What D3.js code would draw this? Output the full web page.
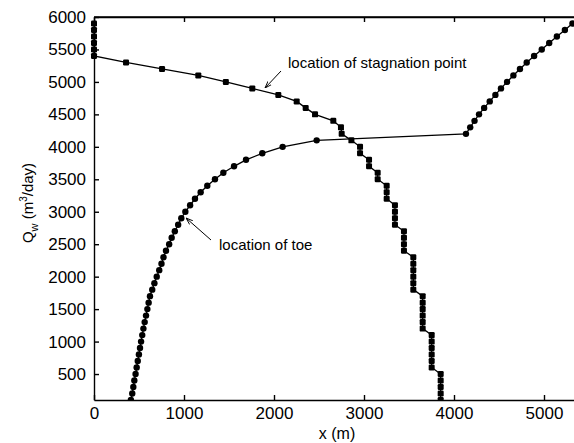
<!DOCTYPE html>
<html>
<head>
<meta charset="utf-8">
<title>Qw vs x</title>
<style>
    body { margin: 0; background: #fff; font-family: "Liberation Sans", Arial, sans-serif; }
    .axis path, .axis line { stroke: #000; stroke-width: 1.4; }
    .axis text { font-size: 17px; fill: #000; font-family: "Liberation Sans", Arial, sans-serif; }
</style>
</head>
<body>
<script src="https://cdn.jsdelivr.net/npm/d3@7"></script>
<script>
// location of toe: pumping rate Q (m3/day) and x (m)
var toeQ = [100, 200, 300, 400, 500, 600, 700, 800, 900, 1000, 1100, 1200, 1300, 1400, 1500, 1600, 1700,
    1800, 1900, 2000, 2100, 2200, 2300, 2400, 2500, 2600, 2700, 2800, 2900, 3000, 3100, 3200,
    3300, 3400, 3500, 3600, 3700, 3800, 3900, 4000, 4100,
    4200, 4300, 4400, 4500, 4600, 4700, 4800, 4900, 5000, 5100, 5200, 5300, 5400, 5500, 5600, 5700, 5800, 5900];
var toeX = [410, 425, 437, 448, 462, 474, 486, 499, 511, 523, 536, 549, 563, 578, 593, 607, 622,
    647, 671, 697, 725, 750, 772, 800, 835, 863, 898, 935, 970, 1015, 1068, 1122,
    1185, 1259, 1344, 1437, 1556, 1689, 1870, 2096, 2474,
    4133, 4180, 4228, 4278, 4335, 4397, 4460, 4522, 4590, 4660, 4733, 4808, 4890, 4975, 5058, 5143, 5232, 5316];

// location of stagnation point
var stagQ = [5900, 5800, 5700, 5600, 5500, 5400, 5300, 5200, 5100, 5000, 4900, 4800, 4700, 4600, 4500,
    4400, 4300, 4200, 4100, 4000, 3900, 3800, 3700, 3600, 3500, 3400, 3300, 3200, 3100, 3000,
    2900, 2800, 2700, 2600, 2500, 2400, 2300, 2200, 2100, 2000, 1900, 1800, 1700, 1600, 1500,
    1400, 1300, 1200, 1100, 1000, 900, 800, 700, 600, 500, 400, 300, 200, 100];
var stagX = [0, 0, 0, 0, 0, 0, 356, 756, 1159, 1465, 1759, 2048, 2252, 2352, 2456,
    2659, 2744, 2752, 2860, 2956, 2956, 3056, 3056, 3152, 3152, 3252, 3252, 3252, 3344, 3344,
    3344, 3344, 3444, 3444, 3444, 3444, 3548, 3548, 3548, 3548, 3548, 3548, 3652, 3652, 3652,
    3652, 3652, 3652, 3752, 3752, 3752, 3752, 3752, 3752, 3852, 3852, 3852, 3852, 3852];

var xTicks = [0, 1000, 2000, 3000, 4000, 5000];
var yTicks = [500, 1000, 1500, 2000, 2500, 3000, 3500, 4000, 4500, 5000, 5500, 6000];

var width = 574, height = 443;
var mLeft = 94, mTop = 17, mRight = 574.6, mBottom = 400;

var svg = d3.select("body").append("svg")
    .attr("width", width)
    .attr("height", height);

var x = d3.scaleLinear().domain([0, 5340]).range([mLeft, mRight]);
var y = d3.scaleLinear().domain([100, 6000]).range([mBottom, mTop]);

svg.append("defs").append("clipPath").attr("id", "clip")
    .append("rect").attr("x", mLeft - 5).attr("y", mTop - 5)
    .attr("width", mRight - mLeft + 10).attr("height", mBottom - mTop + 5);

// frame top line
svg.append("line").attr("x1", mLeft).attr("x2", mRight + 2).attr("y1", mTop).attr("y2", mTop)
    .attr("stroke", "#000").attr("stroke-width", 1.4);

var fmt = d3.format("d");

svg.append("g").attr("class", "axis")
    .attr("transform", "translate(0," + mBottom + ")")
    .call(d3.axisBottom(x).tickValues(xTicks).tickFormat(fmt)
        .tickSizeInner(-5).tickSizeOuter(0).tickPadding(7));
svg.append("g").attr("class", "axis")
    .attr("transform", "translate(0," + mTop + ")")
    .call(d3.axisTop(x).tickValues(xTicks).tickFormat("")
        .tickSizeInner(-5).tickSizeOuter(0));
svg.append("g").attr("class", "axis")
    .attr("transform", "translate(" + mLeft + ",0)")
    .call(d3.axisLeft(y).tickValues(yTicks).tickFormat(fmt)
        .tickSizeInner(-5).tickSizeOuter(0).tickPadding(8));

var plot = svg.append("g").attr("clip-path", "url(#clip)");

var toe = toeQ.map(function (q, i) { return [toeX[i], q]; });
var stag = stagQ.map(function (q, i) { return [stagX[i], q]; });

var line = d3.line()
    .x(function (d) { return x(d[0]); })
    .y(function (d) { return y(d[1]); });

plot.append("path").datum(toe).attr("d", line)
    .attr("fill", "none").attr("stroke", "#000").attr("stroke-width", 1.3);
plot.append("path").datum(stag).attr("d", line)
    .attr("fill", "none").attr("stroke", "#000").attr("stroke-width", 1.3);

plot.selectAll(".toe").data(toe).enter().append("circle")
    .attr("class", "toe")
    .attr("cx", function (d) { return x(d[0]); })
    .attr("cy", function (d) { return y(d[1]); })
    .attr("r", 3.2)
    .attr("fill", "#000");

plot.selectAll(".stag").data(stag).enter().append("rect")
    .attr("class", "stag")
    .attr("x", function (d) { return x(d[0]) - 3; })
    .attr("y", function (d) { return y(d[1]) - 3; })
    .attr("width", 6).attr("height", 6)
    .attr("rx", 1.2)
    .attr("fill", "#000");

// annotations
svg.append("defs").append("marker")
    .attr("id", "arrow").attr("viewBox", "0 0 10 10")
    .attr("refX", 10).attr("refY", 5)
    .attr("markerWidth", 7).attr("markerHeight", 7)
    .attr("orient", "auto")
    .append("path").attr("d", "M0,1.5 L10,5 L0,8.5").attr("fill", "none")
    .attr("stroke", "#000").attr("stroke-width", 1.3);

svg.append("line")
    .attr("x1", 281).attr("y1", 71).attr("x2", 265).attr("y2", 88)
    .attr("stroke", "#000").attr("stroke-width", 1).attr("marker-end", "url(#arrow)");
svg.append("text").attr("x", 288).attr("y", 68)
    .style("font-size", "15px").text("location of stagnation point");

svg.append("line")
    .attr("x1", 211).attr("y1", 240).attr("x2", 186).attr("y2", 218)
    .attr("stroke", "#000").attr("stroke-width", 1).attr("marker-end", "url(#arrow)");
svg.append("text").attr("x", 219).attr("y", 250)
    .style("font-size", "15px").text("location of toe");

// axis titles
svg.append("text")
    .attr("x", 337).attr("y", 439)
    .attr("text-anchor", "middle")
    .style("font-size", "16px")
    .text("x (m)");

var yl = svg.append("text")
    .attr("transform", "translate(33,203) rotate(-90)")
    .attr("text-anchor", "middle")
    .style("font-size", "15px");
yl.append("tspan").text("Q");
yl.append("tspan").attr("dy", 5).style("font-size", "11px").text("w");
yl.append("tspan").attr("dy", -5).text(" (m");
yl.append("tspan").attr("dy", -6).style("font-size", "10px").text("3");
yl.append("tspan").attr("dy", 6).text("/day)");
</script>
</body>
</html>
